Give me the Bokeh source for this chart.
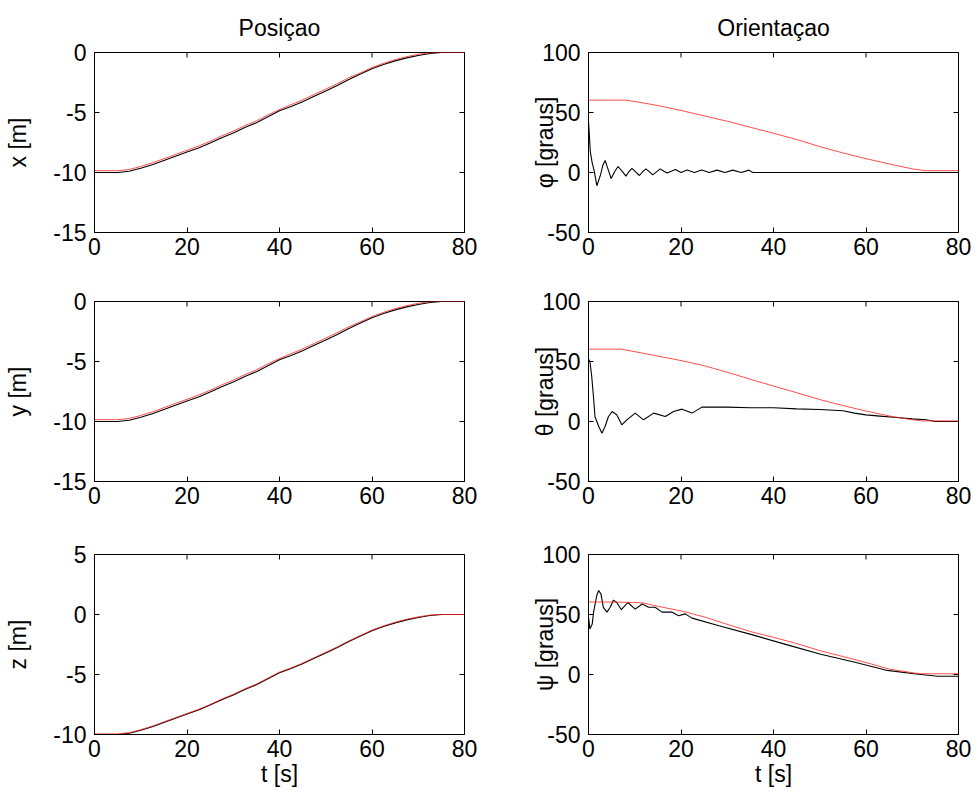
import math
from bokeh.plotting import figure
from bokeh.layouts import gridplot
from bokeh.models import FixedTicker, Range1d, CustomJSTickFormatter
from bokeh.embed import file_html
from bokeh.resources import INLINE

# ---------------- data ----------------
t_pos = [0, 2.5, 5, 7.5, 10, 12.5, 15, 17.5, 20, 22.5, 25, 27.5, 30, 32.5, 35, 37.5,
         40, 42.5, 45, 47.5, 50, 52.5, 55, 57.5, 60, 62.5, 65, 67.5, 70, 72.5, 75, 77.5, 80]

x_real = [-10, -10, -10, -9.9, -9.65, -9.35, -9.0, -8.65, -8.3, -7.95, -7.55, -7.1, -6.7,
          -6.25, -5.85, -5.35, -4.85, -4.5, -4.1, -3.65, -3.2, -2.75, -2.25, -1.8, -1.35,
          -1.0, -0.7, -0.45, -0.25, -0.08, 0, 0, 0]
x_ref = [-9.85, -9.85, -9.85, -9.75, -9.5, -9.2, -8.85, -8.5, -8.15, -7.8, -7.4, -6.95, -6.55,
         -6.1, -5.7, -5.2, -4.75, -4.35, -3.95, -3.5, -3.05, -2.6, -2.1, -1.7, -1.25,
         -0.9, -0.6, -0.35, -0.15, -0.02, 0, 0, 0]

y_real = [-10, -10, -10, -9.9, -9.65, -9.35, -9.0, -8.65, -8.3, -7.95, -7.55, -7.1, -6.7,
          -6.25, -5.85, -5.35, -4.85, -4.5, -4.1, -3.65, -3.2, -2.75, -2.25, -1.8, -1.35,
          -1.0, -0.7, -0.45, -0.25, -0.08, 0, 0, 0]
y_ref = [-9.85, -9.85, -9.85, -9.75, -9.5, -9.2, -8.85, -8.5, -8.15, -7.8, -7.4, -6.95, -6.55,
         -6.1, -5.7, -5.2, -4.75, -4.35, -3.95, -3.5, -3.05, -2.6, -2.1, -1.7, -1.25,
         -0.9, -0.6, -0.35, -0.15, -0.02, 0, 0, 0]

z_real = [-10, -10, -10, -9.9, -9.65, -9.35, -9.0, -8.65, -8.3, -7.95, -7.55, -7.1, -6.7,
          -6.25, -5.85, -5.35, -4.85, -4.5, -4.1, -3.65, -3.2, -2.75, -2.25, -1.8, -1.35,
          -1.0, -0.7, -0.45, -0.25, -0.08, 0, 0, 0]
z_ref = [-9.95, -9.95, -9.95, -9.85, -9.6, -9.3, -8.95, -8.6, -8.25, -7.9, -7.5, -7.05, -6.65,
         -6.2, -5.8, -5.3, -4.8, -4.45, -4.05, -3.6, -3.15, -2.7, -2.2, -1.75, -1.3,
         -0.95, -0.65, -0.4, -0.2, -0.05, 0, 0, 0]

# orientation (degrees)
t_phi = [0, 0.2, 0.4, 0.8, 1.2, 1.8, 2.6, 3.1, 3.6, 4.2, 4.9, 5.7, 6.4, 7.3, 8.1, 8.8, 9.4,
         10.2, 11.0, 11.7, 12.4, 13.2, 13.9, 14.7, 15.5, 16.3, 17.0, 17.9, 18.8, 20.0,
         21.3, 22.9, 24.5, 26.1, 27.8, 29.5, 31.2, 33.0, 34.7, 35.5, 40, 50, 60, 70, 80]
phi_real = [43, 30, 17, 8, 2, -11, -2, 6, 10, 3, -5, 1, 5, 1, -3, 1, 3.5,
            0.5, -2.5, 0.5, 3, 0.5, -2, 0.5, 3, 1, -0.5, 1, 2.5, 0,
            2, 0, 2, 0, 2, 0, 2, 0, 2, 0, 0, 0, 0, 0, 0]
t_phi_ref = [0, 5, 8, 10, 15, 20, 25, 30, 35, 40, 45, 50, 55, 60, 65, 70, 73, 80]
phi_ref = [60.3, 60.3, 60.3, 59.2, 55.8, 51.7, 47.2, 42.7, 37.7, 32.7, 27.5, 21.6,
           16.3, 11.5, 7.2, 3.0, 1.5, 1.5]

t_theta = [0, 0.3, 0.7, 1.1, 1.4, 2.2, 2.9, 3.6, 4.3, 5.1, 6.1, 7.2, 8.3, 10.1, 11.9,
           14.1, 16.6, 18.4, 20.2, 22.4, 24.5, 30, 35, 40, 45, 50, 55, 57.5, 60, 63,
           66, 70, 73, 75, 80]
theta_real = [52, 50, 37.5, 19.4, 4, -4, -9.7, -4, 4, 8.3, 5.6, -2.8, 1.4, 7, 1.4,
              7, 4.2, 8.3, 10.3, 7, 12, 12, 11.5, 11.5, 10.5, 10, 9, 7, 5.5, 4.5,
              3.5, 2.2, 1.5, 0, 0]
t_theta_ref = [0, 5, 7, 10, 15, 20, 25, 30, 35, 40, 45, 50, 55, 60, 65, 70, 72, 80]
theta_ref = [60.3, 60.3, 60.3, 58.2, 54.5, 50.8, 46.5, 41.0, 35.2, 29.5, 24.0, 18.3,
             13.3, 8.7, 4.6, 1.5, 0.5, 0.5]

t_psi = [0, 0.3, 0.8, 1.1, 1.5, 1.8, 2.2, 2.7, 3.2, 4.0, 4.7, 5.4, 6.1, 7.1, 8.5, 10.1,
         11.6, 13.0, 14.4, 15.9, 18.0, 19.5, 20.9, 22.4, 28.2, 35.5, 43.0, 50.2, 57.4,
         64.6, 70.4, 75.5, 80]
psi_real = [48, 38, 42, 52, 60, 66, 70, 67, 56, 52, 56, 62, 60, 54, 60, 54.5,
            58.7, 56, 56, 52, 52, 49, 50.5, 47, 40.7, 33, 24.7, 16.9, 10.4,
            3.4, 0.6, -1.4, -1.4]
t_psi_ref = [0, 5, 10, 12, 15, 20, 25, 30, 35, 40, 45, 50, 55, 60, 65, 70, 72, 80]
psi_ref = [60.4, 60.4, 60.0, 59.5, 56.8, 53.0, 48.0, 41.8, 35.8, 31.0, 25.8, 19.9,
           15.0, 10.0, 4.5, 1.5, 0.6, 0.6]

x_ticks = [0, 20, 40, 60, 80]
pos_ticks_xy = [-15, -10, -5, 0]
pos_ticks_z = [-10, -5, 0, 5]
ang_ticks = [-50, 0, 50, 100]

col_titles = ["Posiçao", "Orientaçao"]
xlabel = "t [s]"

# ---------------- styling ----------------
FONT = "Liberation Sans"
FS = "23px"
FRAME_W, FRAME_H = 370, 180
COL_BORDERS = [(94, 30), (94, 14)]           # (left, right)
ROW_BORDERS = [(52, 34), (35, 34), (39, 66)]  # (top, bottom)
TICK = 10  # full marker length; half of it shows inside the frame


def style_axis(ax, ticks):
    ax.ticker = FixedTicker(ticks=ticks)
    ax.formatter = CustomJSTickFormatter(code="return tick.toString();")
    ax.major_tick_in = 5
    ax.major_tick_out = 0
    ax.minor_tick_line_color = None
    ax.axis_line_color = "black"
    ax.major_tick_line_color = "black"
    ax.major_label_text_font = FONT
    ax.major_label_text_font_size = FS
    ax.major_label_text_color = "black"
    ax.axis_label_text_font = FONT
    ax.axis_label_text_font_size = FS
    ax.axis_label_text_font_style = "normal"
    ax.axis_label_text_color = "black"


def make(row, col, ylab, yrange, yticks, t_r, real, t_f, ref, title=None, xlab=None):
    bl, br = COL_BORDERS[col]
    bt, bb = ROW_BORDERS[row]
    p = figure(frame_width=FRAME_W, frame_height=FRAME_H,
               min_border_left=bl, min_border_right=br,
               min_border_top=bt, min_border_bottom=bb,
               x_range=Range1d(0, 80), y_range=Range1d(*yrange),
               output_backend="svg", toolbar_location=None, tools="")
    p.grid.visible = False
    p.outline_line_color = "black"
    p.outline_line_width = 1
    p.background_fill_color = "white"
    p.border_fill_color = "white"

    xax = p.xaxis[0]
    yax = p.yaxis[0]
    style_axis(xax, x_ticks)
    style_axis(yax, yticks)
    xax.major_label_standoff = 5
    yax.major_label_standoff = 8
    yax.axis_label = ylab
    yax.axis_label_standoff = 19 if col == 0 else -19
    if xlab:
        xax.axis_label = xlab
        xax.axis_label_standoff = 1

    # inward tick marks on the top and right edges (clipped to the frame)
    p.scatter(x_ticks, [yrange[1]] * len(x_ticks), marker="dash", size=TICK,
              angle=math.pi / 2, line_color="black", line_width=1)
    p.scatter([80] * len(yticks), yticks, marker="dash", size=TICK,
              line_color="black", line_width=1)

    if title:
        p.title.text = title
        p.title.text_font = FONT
        p.title.text_font_size = FS
        p.title.text_font_style = "normal"
        p.title.align = "center"
        p.title.offset = 3
        p.title.text_color = "black"
        p.title.standoff = 23

    p.line(t_r, real, line_color="black", line_width=1.1)
    p.line(t_f, ref, line_color="#ff2020", line_width=1, line_alpha=0.8)
    return p


p1 = make(0, 0, "x [m]", (-15, 0), pos_ticks_xy, t_pos, x_real, t_pos, x_ref, title=col_titles[0])
p2 = make(1, 0, "y [m]", (-15, 0), pos_ticks_xy, t_pos, y_real, t_pos, y_ref)
p3 = make(2, 0, "z [m]", (-10, 5), pos_ticks_z, t_pos, z_real, t_pos, z_ref, xlab=xlabel)
p4 = make(0, 1, "φ [graus]", (-50, 100), ang_ticks, t_phi, phi_real, t_phi_ref, phi_ref, title=col_titles[1])
p5 = make(1, 1, "θ [graus]", (-50, 100), ang_ticks, t_theta, theta_real, t_theta_ref, theta_ref)
p6 = make(2, 1, "ψ [graus]", (-50, 100), ang_ticks, t_psi, psi_real, t_psi_ref, psi_ref, xlab=xlabel)

grid = gridplot([[p1, p4], [p2, p5], [p3, p6]], toolbar_location=None)

open("out.html", "w").write(file_html(grid, INLINE))
